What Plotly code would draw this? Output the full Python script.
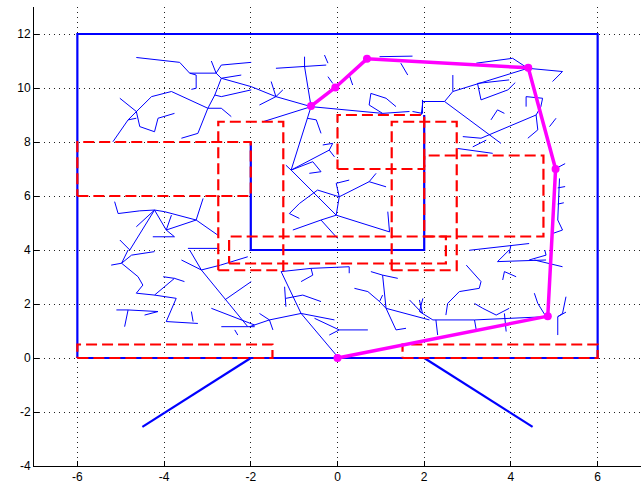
import plotly.graph_objects as go

# Workspace boundary and walls (solid blue)
outer_x = [-6, 6, 6, -6, -6]
outer_y = [0, 0, 12, 12, 0]
inner_x = [-2, -2, 2, 2]
inner_y = [8, 4, 4, 9]
leg_left_x = [-2, -4.5]
leg_left_y = [0, -2.55]
leg_right_x = [2, 4.5]
leg_right_y = [0, -2.55]

# Obstacles as (x0, x1, y0, y1), drawn dashed red
obstacles = [
    (-6, -2, 6, 8),
    (-2.75, -1.25, 3.25, 8.75),
    (-2.5, 2.5, 3.5, 4.5),
    (0, 2, 7, 9),
    (1.25, 2.75, 3.25, 8.75),
    (2, 4.75, 4.5, 7.5),
    (-6, -1.5, 0, 0.5),
    (1.5, 6, 0, 0.5),
]

# Planned path through the tree
path_x = [0, 4.85, 5.03, 4.40, 0.68, -0.05, -0.61]
path_y = [0, 1.55, 7.0, 10.75, 11.08, 10.02, 9.33]

# Explored tree branches, each a polyline of (x, y) nodes
tree_branches = [
    [(-4.64, 11.13), (-4.0, 11.01), (-3.64, 10.95), (-3.41, 10.55), (-2.80, 10.55), (-2.68, 10.85), (-1.99, 10.95)],
    [(-2.80, 10.55), (-2.91, 11.0)],
    [(-3.41, 10.55), (-3.26, 10.48), (-3.26, 9.99), (-3.37, 9.95)],
    [(-2.80, 10.55), (-2.68, 10.36), (-1.99, 10.05)],
    [(-2.68, 10.36), (-2.22, 10.48)],
    [(-2.68, 10.36), (-2.83, 9.74), (-2.99, 9.25)],
    [(-2.99, 9.25), (-3.68, 9.74), (-3.83, 9.87), (-4.29, 9.68), (-4.64, 9.13), (-4.83, 8.82), (-5.18, 8.01)],
    [(-2.83, 9.74), (-2.68, 9.68), (-1.99, 9.93)],
    [(-2.99, 9.25), (-3.22, 8.32), (-3.60, 8.14)],
    [(-2.99, 9.25), (-2.68, 9.25), (-2.45, 8.94)],
    [(-5.02, 9.62), (-4.64, 9.13), (-4.56, 8.57), (-4.22, 8.38), (-4.14, 8.88), (-3.76, 9.06)],
    [(-4.83, 8.82), (-4.64, 8.88)],
    [(-1.42, 10.73), (-0.76, 10.79), (-0.26, 10.85)],
    [(-0.76, 11.16), (-0.76, 10.79), (-0.61, 9.31)],
    [(-0.30, 11.22), (-0.22, 10.92)],
    [(-1.99, 10.05), (-1.42, 9.68), (-0.61, 9.31)],
    [(-1.53, 10.24), (-1.42, 9.68), (-1.80, 9.37)],
    [(-1.42, 9.68), (-1.26, 9.93)],
    [(-0.61, 9.31), (1.04, 9.06), (1.66, 9.13)],
    [(1.04, 9.06), (0.73, 9.37), (0.77, 9.80), (1.12, 9.62), (1.35, 9.31)],
    [(-0.61, 9.31), (-1.72, 8.75)],
    [(-0.61, 9.31), (-1.07, 6.96)],
    [(-0.70, 8.88), (-0.49, 8.82), (-0.38, 8.32)],
    [(-0.22, 10.42), (-0.11, 10.17)],
    [(0.27, 10.48), (0.35, 10.11)],
    [(1.96, 9.56), (1.96, 9.06), (1.73, 9.13)],
    [(1.46, 10.92), (1.62, 10.48)],
    [(0.97, 11.16), (1.73, 11.18)],
    [(3.20, 10.92), (4.04, 11.10), (4.39, 10.73)],
    [(4.39, 10.73), (5.19, 10.61), (4.96, 10.24)],
    [(4.39, 10.73), (2.66, 9.87), (2.47, 9.50), (1.97, 9.50), (1.93, 9.0)],
    [(2.66, 9.87), (2.66, 10.48)],
    [(3.96, 10.3), (3.23, 10.17), (3.31, 9.56), (3.93, 9.93), (4.1, 10.2)],
    [(2.47, 9.50), (2.8, 9.1), (3.77, 7.95)],
    [(3.54, 8.82), (3.69, 9.19), (3.85, 9.06)],
    [(2.89, 8.20), (3.31, 8.14), (4.58, 9.0), (4.62, 8.45), (4.39, 8.14)],
    [(4.35, 9.31), (4.35, 9.68), (4.73, 9.62), (4.69, 9.31)],
    [(5.04, 8.88), (4.89, 8.57)],
    [(4.58, 9.0), (4.69, 9.31)],
    [(-5.14, 5.79), (-5.06, 5.35), (-4.56, 5.45), (-4.22, 5.48), (-3.99, 5.42), (-3.26, 5.11), (-2.76, 4.55)],
    [(-4.22, 5.48), (-4.64, 4.86)],
    [(-4.22, 5.48), (-4.79, 4.0)],
    [(-3.83, 5.29), (-3.95, 4.74), (-3.76, 4.49)],
    [(-3.95, 4.74), (-3.26, 5.11), (-3.10, 5.91)],
    [(-4.26, 4.49), (-3.76, 4.49)],
    [(-5.02, 4.37), (-4.79, 4.0)],
    [(-3.45, 4.06), (-2.76, 4.06)],
    [(-4.22, 5.48), (-3.95, 4.74)],
    [(-1.07, 6.96), (-0.19, 7.70), (-0.11, 7.95), (-0.34, 7.89)],
    [(-0.19, 7.70), (-0.07, 7.45)],
    [(-1.07, 6.96), (-0.57, 7.27), (-0.38, 6.90), (-0.65, 6.84)],
    [(-1.19, 7.14), (-1.07, 6.96)],
    [(-1.07, 6.96), (-0.03, 5.29)],
    [(-0.46, 6.22), (0.04, 5.97), (0.73, 6.53), (0.89, 6.84)],
    [(0.73, 6.53), (1.12, 6.34)],
    [(0.04, 5.97), (-0.03, 6.47), (0.27, 6.59)],
    [(-0.46, 6.22), (-0.88, 5.72), (-1.11, 5.35), (-0.88, 5.17)],
    [(-0.03, 5.29), (-0.38, 5.11), (-1.03, 4.74)],
    [(-0.38, 5.11), (0.0, 4.43)],
    [(-0.03, 5.29), (1.20, 4.67), (1.16, 5.42)],
    [(0.04, 5.97), (-0.03, 5.29)],
    [(2.77, 7.76), (3.58, 7.58)],
    [(3.12, 7.82), (3.43, 8.07)],
    [(5.12, 6.65), (5.08, 5.11), (5.19, 4.74), (4.96, 4.61)],
    [(3.04, 3.99), (4.42, 4.24)],
    [(4.0, 4.18), (3.96, 3.87)],
    [(5.04, 7.02), (5.25, 7.2)],
    [(5.08, 6.3), (5.25, 6.35)],
    [(5.08, 5.7), (5.22, 5.75)],
    [(-5.22, 3.44), (-4.98, 3.51), (-4.75, 3.81), (-4.22, 3.94)],
    [(-4.83, 4.0), (-4.98, 3.51)],
    [(-4.98, 3.51), (-4.60, 3.01), (-4.49, 2.70), (-4.64, 2.40), (-4.22, 2.33), (-3.76, 2.95), (-3.53, 2.83)],
    [(-4.02, 3.01), (-3.76, 2.95)],
    [(-4.22, 2.33), (-3.72, 2.21), (-3.95, 1.35), (-3.22, 1.28)],
    [(-3.37, 1.72), (-3.33, 1.35)],
    [(-5.10, 1.78), (-4.83, 1.78), (-4.91, 1.16)],
    [(-4.83, 1.78), (-4.14, 1.72), (-4.45, 1.59)],
    [(-3.60, 3.63), (-3.14, 3.26), (-2.07, 1.16)],
    [(-3.41, 4.0), (-3.14, 3.26)],
    [(-3.14, 3.26), (-2.70, 3.44), (-2.07, 3.75)],
    [(-2.91, 1.84), (-1.91, 1.22)],
    [(-2.68, 1.16), (-1.91, 1.16)],
    [(-2.37, 1.04), (-2.30, 0.85)],
    [(-2.60, 2.15), (-1.99, 2.83)],
    [(-1.30, 3.20), (-0.61, 3.32), (0.27, 3.38), (0.27, 3.14)],
    [(-0.61, 3.32), (-0.57, 3.07), (-0.84, 2.83)],
    [(-1.30, 3.20), (-0.84, 1.65), (0.0, 0.05)],
    [(-0.84, 1.65), (-1.57, 1.41), (-2.03, 1.16)],
    [(-1.57, 1.41), (-1.80, 1.65)],
    [(-1.57, 1.41), (-1.49, 1.04)],
    [(-1.19, 2.21), (-0.80, 2.33), (-0.38, 2.09)],
    [(-1.22, 2.64), (-1.19, 1.90)],
    [(-0.84, 1.65), (-0.07, 1.41)],
    [(-0.53, 1.47), (0.04, 1.04), (0.70, 1.04)],
    [(-0.19, 0.85), (0.04, 1.04)],
    [(0.39, 2.58), (0.70, 2.46), (0.97, 2.09), (1.12, 1.84), (2.12, 1.41)],
    [(0.97, 2.09), (1.04, 2.33)],
    [(0.77, 3.20), (1.04, 3.07), (1.12, 1.84), (1.35, 1.04), (1.58, 1.10)],
    [(1.04, 3.07), (1.39, 2.95)],
    [(1.66, 2.15), (1.96, 1.65), (1.89, 2.15)],
    [(3.69, 3.57), (4.81, 3.63)],
    [(3.96, 4.0), (3.69, 3.57)],
    [(4.42, 3.63), (4.81, 3.81), (4.78, 4.0)],
    [(4.54, 3.63), (5.19, 3.38)],
    [(3.85, 3.20), (3.81, 2.89)],
    [(3.85, 3.20), (4.12, 3.01)],
    [(2.97, 3.44), (3.31, 2.83), (3.27, 2.58), (2.81, 2.46), (2.54, 2.02), (2.50, 1.59)],
    [(1.97, 2.21), (1.89, 1.72), (2.20, 1.41), (3.16, 1.41)],
    [(2.27, 1.41), (2.31, 0.85)],
    [(3.16, 1.41), (3.20, 1.04)],
    [(3.16, 2.02), (3.35, 1.84), (3.66, 1.59), (3.96, 1.84)],
    [(3.85, 1.65), (3.89, 0.98)],
    [(3.16, 1.41), (4.81, 1.53)],
    [(4.54, 2.40), (4.62, 2.02), (4.81, 1.53)],
    [(5.27, 2.27), (5.19, 1.65), (5.08, 1.53), (5.08, 0.85)],
    [(5.08, 1.53), (5.27, 1.70)],
]

x_ticks = [-6, -4, -2, 0, 2, 4, 6]
y_ticks = [-4, -2, 0, 2, 4, 6, 8, 10, 12]

BLUE = "#0000FF"
RED = "#FF0000"
MAGENTA = "#FF00FF"

fig = go.Figure()

# tree edges as one trace separated by gaps
tx, ty = [], []
for br in tree_branches:
    for px, py in br:
        tx.append(px)
        ty.append(py)
    tx.append(None)
    ty.append(None)
fig.add_trace(go.Scatter(x=tx, y=ty, mode="lines",
                         line=dict(color=BLUE, width=1), hoverinfo="skip"))

# walls
for wx, wy in [(outer_x, outer_y), (inner_x, inner_y),
               (leg_left_x, leg_left_y), (leg_right_x, leg_right_y)]:
    fig.add_trace(go.Scatter(x=wx, y=wy, mode="lines",
                             line=dict(color=BLUE, width=2.2), hoverinfo="skip"))

# obstacles
for x0, x1, y0, y1 in obstacles:
    fig.add_trace(go.Scatter(x=[x0, x1, x1, x0, x0], y=[y0, y0, y1, y1, y0],
                             mode="lines",
                             line=dict(color=RED, width=2.2, dash="11px,5px"),
                             hoverinfo="skip"))

# path
fig.add_trace(go.Scatter(x=path_x, y=path_y, mode="lines+markers",
                         line=dict(color=MAGENTA, width=3.5),
                         marker=dict(color=MAGENTA, size=8),
                         hoverinfo="skip"))

axis_common = dict(
    showgrid=True, gridcolor="#222222", griddash="1px,4px", gridwidth=1,
    zeroline=False, showline=True, linecolor="black", linewidth=1,
    ticks="inside", ticklen=5, tickcolor="black", tickwidth=1,
    tickfont=dict(family="Liberation Sans, Arial, sans-serif", size=12, color="black"),
)

fig.update_layout(
    width=641, height=486,
    margin=dict(l=34, r=0, t=7, b=20),
    paper_bgcolor="white", plot_bgcolor="white",
    showlegend=False,
    xaxis=dict(range=[-7, 7], tickvals=x_ticks,
               ticktext=[str(v) for v in x_ticks], **axis_common),
    yaxis=dict(range=[-4, 13], tickvals=y_ticks,
               ticktext=[str(v) for v in y_ticks], **axis_common),
)

fig.write_html("out.html")
